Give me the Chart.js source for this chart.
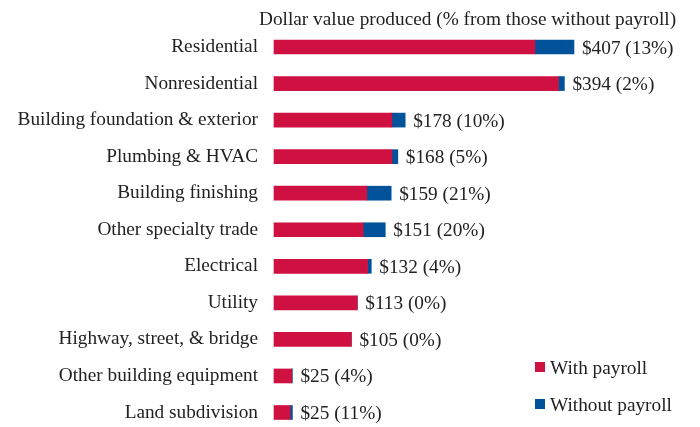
<!DOCTYPE html>
<html>
<head>
<meta charset="utf-8">
<script src="https://cdn.jsdelivr.net/npm/chart.js@4/dist/chart.umd.min.js"></script>
<style>
html,body{margin:0;padding:0;background:#fff;}
#wrap{width:700px;height:427px;position:relative;}
</style>
</head>
<body>
<div id="wrap"><canvas id="c" width="700" height="427"></canvas></div>
<script>
const categories = ["Residential","Nonresidential","Building foundation & exterior","Plumbing & HVAC","Building finishing","Other specialty trade","Electrical","Utility","Highway, street, & bridge","Other building equipment","Land subdivision"];
const withPayroll = [354,386,160,160,126,121,127,113,105,24,22];
const withoutPayroll = [53,8,18,8,33,30,5,0,0,1,3];
const totals = [407,394,178,168,159,151,132,113,105,25,25];
const pctWithout = [13,2,10,5,21,20,4,0,0,4,11];
const titleText = "Dollar value produced (% from those without payroll)";

const FONT = '"Liberation Serif", "Times New Roman", serif';
const TXT = '#222222';
const RED = '#CE1141';
const BLUE = '#00539B';

const overlay = {
  id: 'overlay',
  afterDatasetsDraw(chart) {
    const ctx = chart.ctx;
    ctx.save();
    ctx.fillStyle = TXT;
    ctx.font = '19.3px ' + FONT;
    ctx.textBaseline = 'alphabetic';
    ctx.textAlign = 'left';
    ctx.fillText(titleText, 259, 25);
    const meta = chart.getDatasetMeta(1);
    meta.data.forEach((el, i) => {
      ctx.fillText('$' + totals[i] + ' (' + pctWithout[i] + '%)', el.x + 8, el.y + 6.5);
    });
    chart.data.datasets.forEach((ds, k) => {
      const cy = 367 + k * 37;
      ctx.fillStyle = ds.backgroundColor;
      ctx.fillRect(535, cy - 5, 10, 10);
      ctx.fillStyle = TXT;
      ctx.fillText(ds.label, 550, cy + 6.5);
    });
    ctx.restore();
  }
};

new Chart(document.getElementById('c'), {
  type: 'bar',
  data: {
    labels: categories,
    datasets: [
      {label: 'With payroll', data: withPayroll, backgroundColor: RED, barThickness: 14, clip: false},
      {label: 'Without payroll', data: withoutPayroll, backgroundColor: BLUE, barThickness: 14, clip: false}
    ]
  },
  options: {
    indexAxis: 'y',
    responsive: false,
    animation: false,
    layout: {padding: {left: 15, right: 57.5, top: 47, bottom: 14.5}},
    plugins: {legend: {display: false}, tooltip: {enabled: false}, title: {display: false}},
    scales: {
      x: {stacked: true, display: false, min: 0, max: 500},
      y: {
        stacked: true,
        offset: false,
        grid: {display: false, drawTicks: false},
        border: {display: false},
        ticks: {color: TXT, font: {family: FONT, size: 19.3}, padding: 16, autoSkip: false},
        afterFit(scale) { scale.width = 259; scale.paddingTop = 0; scale.paddingBottom = 0; }
      }
    }
  },
  plugins: [overlay]
});
</script>
</body>
</html>
